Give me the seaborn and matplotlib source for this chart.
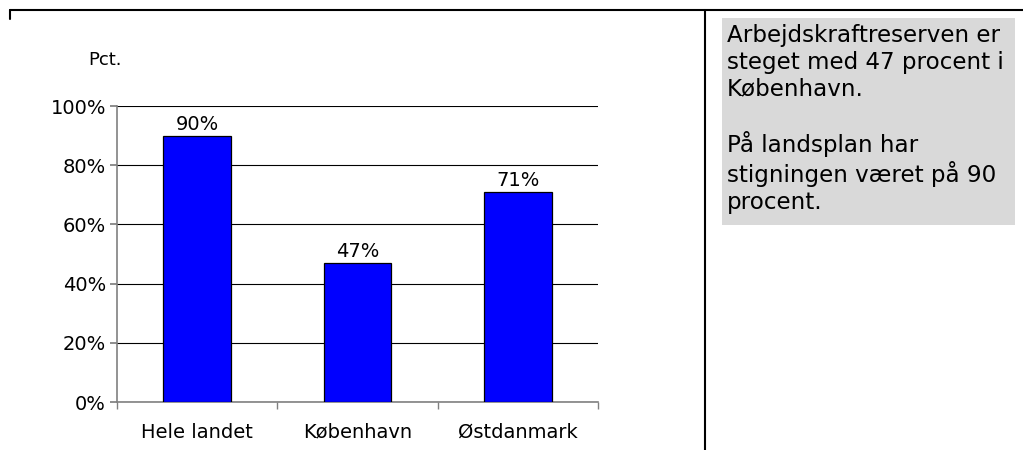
import matplotlib
matplotlib.use("Agg")
import matplotlib.pyplot as plt
from matplotlib.lines import Line2D
from matplotlib.patches import Rectangle
from matplotlib.ticker import FuncFormatter, FixedLocator
import seaborn as sns
import pandas as pd

# data
regions = ["Hele landet", "København", "Østdanmark"]
growth_pct = [90, 47, 71]
ytick_vals = [0, 20, 40, 60, 80, 100]
note_text = ("Arbejdskraftreserven er\nsteget med 47 procent i\nKøbenhavn.\n\n"
             "På landsplan har\nstigningen været på 90\nprocent.")

df = pd.DataFrame({"region": regions, "pct": growth_pct})

sns.set_theme(style="white")
plt.rcParams['font.family'] = ['DejaVu Sans']
plt.rcParams['text.color'] = 'black'
plt.rcParams['xtick.color'] = 'black'
plt.rcParams['ytick.color'] = 'black'

W, H = 1023, 450
fig = plt.figure(figsize=(W / 100, H / 100), dpi=100)
ax = fig.add_axes([117 / W, 1 - 402 / H, 481 / W, 296 / H])

sns.barplot(data=df, x="region", y="pct", color="#0000ff", saturation=1,
            width=0.42, edgecolor="black", linewidth=0.9, ax=ax, zorder=3)

ax.set_ylim(0, 100)
ax.set_xlim(-0.5, 2.5)
ax.yaxis.set_major_locator(FixedLocator(ytick_vals))
ax.yaxis.set_major_formatter(FuncFormatter(lambda v, p: f"{v:.0f}%"))
ax.grid(axis="y", color="black", linewidth=0.8, zorder=0)
ax.set_xlabel("")
ax.set_ylabel("")

for s in ["top", "right"]:
    ax.spines[s].set_visible(False)
ax.spines["left"].set_color("#808080")
ax.spines["left"].set_linewidth(1.2)
ax.spines["bottom"].set_color("#808080")
ax.spines["bottom"].set_linewidth(1.2)

ax.tick_params(axis="y", left=True, length=5, color="#808080", labelsize=14, pad=3)
ax.tick_params(axis="x", bottom=False, labelsize=14, pad=9)
# x ticks at category boundaries
ax.set_xticks([-0.5, 0.5, 1.5, 2.5], minor=True)
ax.tick_params(axis="x", which="minor", bottom=True, length=5, color="#808080")

ax.bar_label(ax.containers[0], labels=[f"{v}%" for v in growth_pct],
             padding=1, fontsize=14)

fig.text(88 / W, 1 - 60 / H, "Pct.", fontsize=13, va="center", ha="left")

# frame lines
fig.add_artist(Line2D([10 / W, 1.0], [1 - 10 / H, 1 - 10 / H], color="black", lw=1.5))
fig.add_artist(Line2D([10 / W, 10 / W], [1 - 10 / H, 1 - 19 / H], color="black", lw=1.5))
fig.add_artist(Line2D([705 / W, 705 / W], [1 - 10 / H, 0.0], color="black", lw=1.5))

# note box
fig.add_artist(Rectangle((722 / W, 1 - 225 / H), 293 / W, 207 / H,
                         facecolor="#d9d9d9", edgecolor="none"))
fig.text(727 / W, 1 - 24 / H, note_text, fontsize=16.6, va="top", ha="left",
         linespacing=1.2)

fig.savefig("out.png", dpi=100)
